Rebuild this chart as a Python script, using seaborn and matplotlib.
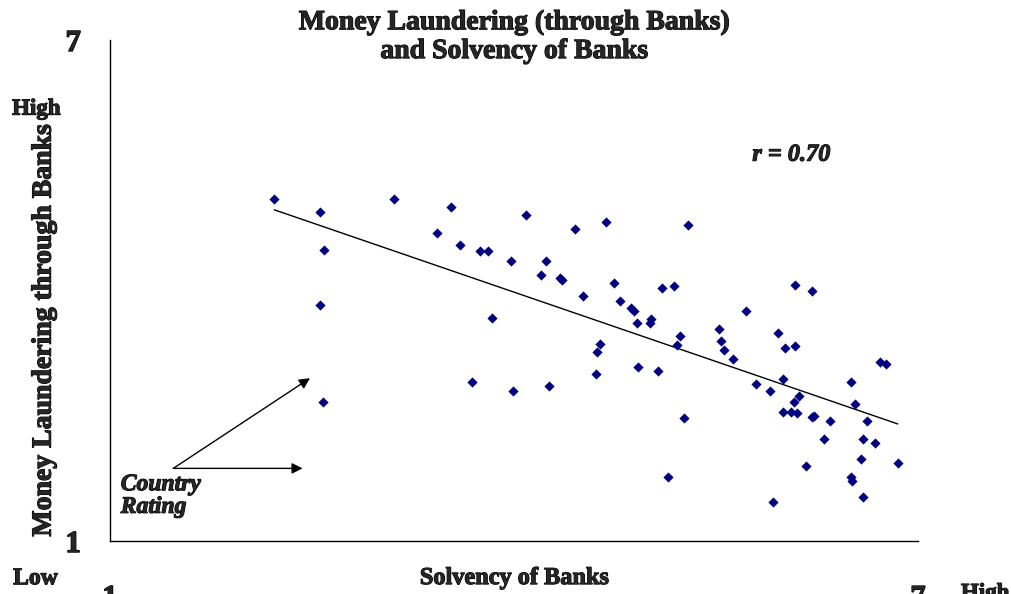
import numpy as np
import pandas as pd
import matplotlib.pyplot as plt
import matplotlib.patheffects as pe
import seaborn as sns

# --- Data (country ratings) ---
solvency = [
    2.22, 2.56, 2.59, 2.56, 2.58, 3.11, 3.53, 3.43, 3.60, 3.75,
    3.81, 3.84, 3.69, 4.09, 4.45, 4.68, 5.29, 3.98, 4.24, 4.20,
    4.34, 4.36, 4.74, 5.10, 5.19, 4.51, 4.79, 4.87, 4.89, 4.91,
    5.02, 5.01, 5.23, 5.21, 5.52, 5.54, 5.56, 4.64, 4.62, 4.61,
    4.92, 5.07, 4.26, 3.99, 5.26, 5.14, 6.09, 6.21, 5.72, 5.63,
    5.96, 6.01, 6.09, 6.00, 5.80, 5.90, 6.12, 6.08, 6.00, 6.06,
    6.10, 6.21, 6.23, 6.35, 6.50, 6.53, 6.72, 6.76, 6.62, 6.30,
    6.59, 6.68, 6.58, 6.85, 6.17, 6.50, 6.51, 6.59, 5.92,
]
laundering = [
    5.10, 4.94, 4.49, 3.83, 2.66, 5.10, 5.00, 4.69, 4.54, 4.47,
    4.47, 3.67, 2.90, 4.90, 4.74, 4.82, 4.78, 4.35, 4.35, 4.19,
    4.15, 4.13, 4.09, 4.03, 4.05, 3.93, 3.87, 3.79, 3.75, 3.61,
    3.66, 3.61, 3.45, 3.35, 3.54, 3.40, 3.29, 3.36, 3.26, 3.00,
    3.08, 3.04, 2.86, 2.80, 2.47, 1.77, 4.07, 3.99, 3.75, 3.18,
    3.49, 3.31, 3.34, 2.94, 2.88, 2.80, 2.74, 2.66, 2.54, 2.54,
    2.53, 2.49, 2.50, 2.44, 2.90, 2.64, 3.14, 3.12, 2.44, 2.22,
    2.22, 2.17, 1.98, 1.93, 1.90, 1.77, 1.72, 1.53, 1.47,
]
axis_ticks = [1, 7]
r_label = 'r = 0.70'

df = pd.DataFrame({'solvency': solvency, 'laundering': laundering})

sns.set_style('white')
plt.rcParams['font.family'] = ['Liberation Serif', 'DejaVu Serif']

# the serif face has no bold variant here, so thicken glyphs with a stroke
def heavy(w=0.7):
    return [pe.withStroke(linewidth=w, foreground='black')]

fig = plt.figure(figsize=(10.12, 5.94), dpi=100)
ax = fig.add_axes([0.1087, 0.0892, 0.7984, 0.8435])

sns.regplot(data=df, x='solvency', y='laundering', ax=ax, ci=None,
            marker='D', color='#000080',
            scatter_kws={'s': 27, 'linewidths': 0, 'alpha': 1, 'zorder': 3},
            line_kws={'color': 'black', 'linewidth': 1.0})

ax.set_xlim(1, 7)
ax.set_ylim(1, 7)
ax.set_xticks(axis_ticks)
ax.set_yticks(axis_ticks)
ax.set_xlabel('')
ylab = ax.set_ylabel('Money Laundering through Banks', fontsize=20,
                     fontweight='bold')
ylab.set_path_effects(heavy(0.8))
ax.yaxis.set_label_coords(-0.066, 0.42)

sns.despine(ax=ax)
for side in ['left', 'bottom']:
    ax.spines[side].set_color('black')
    ax.spines[side].set_linewidth(1.0)
ax.tick_params(axis='both', which='major', direction='out', length=9, width=1,
               color='black')
ax.tick_params(axis='y', labelsize=22, pad=12)
ax.tick_params(axis='x', labelsize=22, pad=22)
for lbl in ax.get_xticklabels() + ax.get_yticklabels():
    lbl.set_fontweight('bold')
    lbl.set_path_effects(heavy(1.0))

# Title
fig.text(0.508, 0.983, 'Money Laundering (through Banks)\nand Solvency of Banks',
         ha='center', va='top', fontsize=20, fontweight='bold', linespacing=1.2,
         path_effects=heavy(0.8))

# Axis end annotations
fig.text(0.012, 0.807, 'High', ha='left', va='baseline', fontsize=16.5,
         fontweight='bold', path_effects=heavy(0.8))
fig.text(0.013, 0.0165, 'Low', ha='left', va='baseline', fontsize=17,
         fontweight='bold', path_effects=heavy(0.8))
fig.text(0.9496, -0.0084, 'High', ha='left', va='baseline', fontsize=16.5,
         fontweight='bold', path_effects=heavy(0.8))
fig.text(0.508, 0.026, 'Solvency of Banks', ha='center', va='center',
         fontsize=17.5, fontweight='bold', path_effects=heavy(0.8))

# Correlation label
ax.text(6.06, 5.62, r_label, ha='center', va='center', fontsize=17.5,
        fontweight='bold', fontstyle='italic', path_effects=heavy(0.8))

# Country rating arrows
ax.text(1.08, 1.80, 'Country\nRating', ha='left', va='top', fontsize=17,
        fontweight='bold', fontstyle='italic', linespacing=1.1,
        path_effects=heavy(0.8))
arrow = dict(arrowstyle='-|>', color='black', lw=1.0, mutation_scale=16,
             shrinkA=0, shrinkB=0)
ax.annotate('', xy=(2.485, 2.95), xytext=(1.47, 1.87), arrowprops=arrow)
ax.annotate('', xy=(2.43, 1.87), xytext=(1.47, 1.87), arrowprops=arrow)

fig.savefig('out.png', dpi=100)
